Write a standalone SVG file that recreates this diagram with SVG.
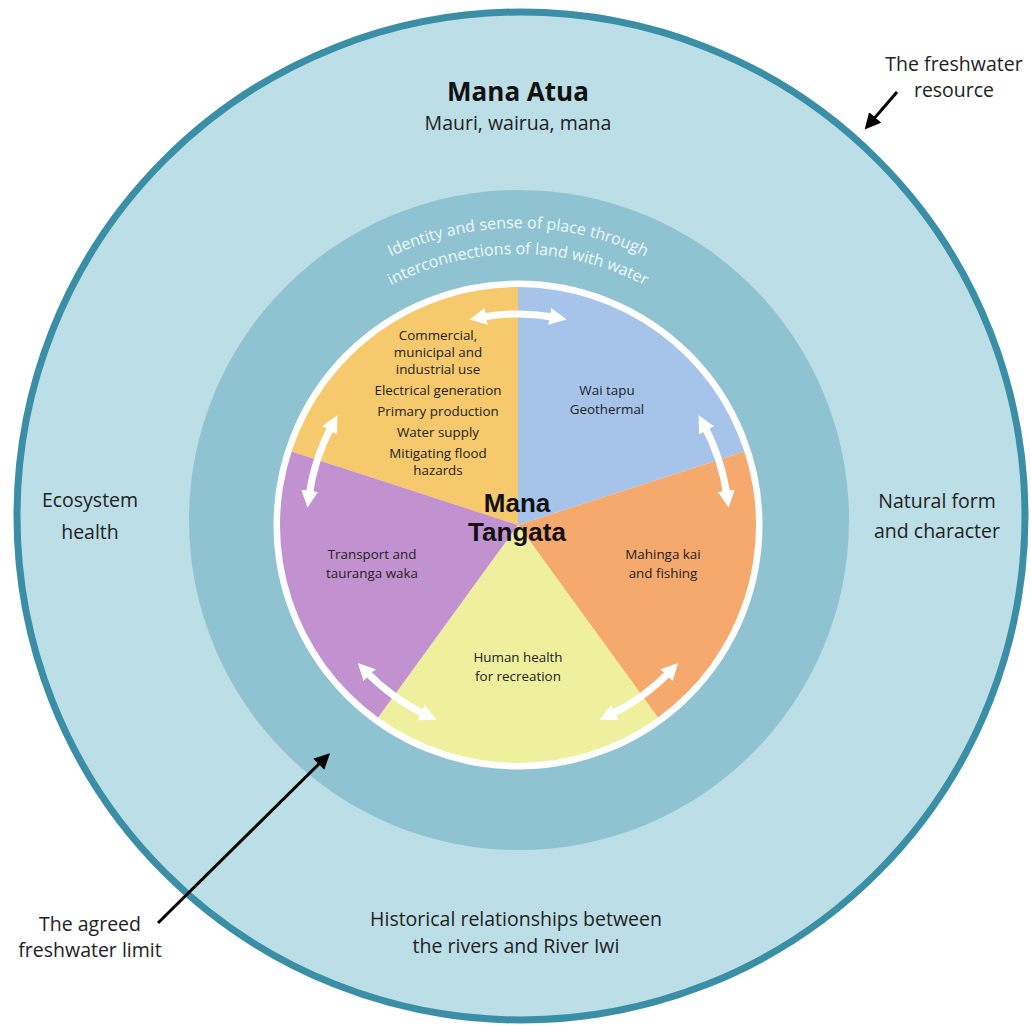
<svg xmlns="http://www.w3.org/2000/svg" width="1031" height="1025" viewBox="0 0 1031 1025">
<defs>
<style>
text{font-family:"Open Sans","Noto Sans","Liberation Sans",sans-serif;fill:#222;text-anchor:middle}
.lbl{font-size:19.5px}
.pie{font-size:13.4px}
.bold{font-weight:bold}
.mt{font-family:"Liberation Sans",Arial,sans-serif;font-weight:bold;font-size:26px;fill:#111}
.curve{fill:#eef9fb;font-size:16px}
.wa{fill:none;stroke:#ffffff;stroke-width:7;marker-start:url(#wh);marker-end:url(#wh)}
.ba{fill:none;stroke:#000;stroke-width:3;marker-end:url(#bh)}
</style>
<marker id="wh" viewBox="0 0 10 10" refX="4" refY="5" markerUnits="userSpaceOnUse" markerWidth="17" markerHeight="17" orient="auto-start-reverse">
<path d="M0,0 L10,5 L0,10 z" fill="#ffffff"/>
</marker>
<marker id="bh" viewBox="0 0 10 10" refX="3" refY="5" markerUnits="userSpaceOnUse" markerWidth="16" markerHeight="16" orient="auto">
<path d="M0,0 L10,5 L0,10 z" fill="#000"/>
</marker>
<path id="arc1" d="M221,525 A297,297 0 0 1 815,525"/>
<path id="arc2" d="M247,525 A271,271 0 0 1 789,525"/>
</defs>
<rect width="1031" height="1025" fill="#ffffff"/>
<g id="freshwater-resource">
<circle cx="521" cy="516" r="504" fill="#bcdee7" stroke="#3a8ea6" stroke-width="7"/>
<text class="bold" x="518" y="101" style="font-size:26px;fill:#111">Mana Atua</text>
<text class="lbl" x="518" y="130">Mauri, wairua, mana</text>
</g>
<g id="ecosystem-health"><text class="lbl" x="90" y="507">Ecosystem</text><text class="lbl" x="90" y="539">health</text></g>
<g id="natural-form"><text class="lbl" x="937" y="508">Natural form</text><text class="lbl" x="937" y="538">and character</text></g>
<g id="historical"><text class="lbl" x="516" y="926">Historical relationships between</text><text class="lbl" x="516" y="953">the rivers and River Iwi</text></g>
<g id="identity-ring">
<circle cx="519" cy="520" r="330" fill="#8fc3d1"/>
<text class="curve"><textPath href="#arc1" startOffset="50%">Identity and sense of place through</textPath></text>
<text class="curve"><textPath href="#arc2" startOffset="50%">interconnections of land with water</textPath></text>
</g>
<g id="mana-tangata">
<circle cx="518" cy="525" r="241" fill="#ffffff" stroke="#ffffff" stroke-width="7"/>
<g id="wedge-commercial">
<path d="M518,525 L291.65,451.45 A238,238 0 0 1 518,287 Z" fill="#f6c96c"/>
<text class="pie" x="438" y="340">Commercial,</text>
<text class="pie" x="438" y="357">municipal and</text>
<text class="pie" x="438" y="374">industrial use</text>
<text class="pie" x="438" y="395">Electrical generation</text>
<text class="pie" x="438" y="416">Primary production</text>
<text class="pie" x="438" y="437">Water supply</text>
<text class="pie" x="438" y="458">Mitigating flood</text>
<text class="pie" x="438" y="475">hazards</text>
</g>
<g id="wedge-waitapu">
<path d="M518,525 L518,287 A238,238 0 0 1 744.35,451.45 Z" fill="#a6c4ea"/>
<text class="pie" x="607" y="395">Wai tapu</text>
<text class="pie" x="607" y="414">Geothermal</text>
</g>
<g id="wedge-mahinga">
<path d="M518,525 L744.35,451.45 A238,238 0 0 1 657.89,717.55 Z" fill="#f5a96d"/>
<text class="pie" x="663" y="559">Mahinga kai</text>
<text class="pie" x="663" y="578">and fishing</text>
</g>
<g id="wedge-human">
<path d="M518,525 L657.89,717.55 A238,238 0 0 1 378.11,717.55 Z" fill="#eef09d"/>
<text class="pie" x="518" y="662">Human health</text>
<text class="pie" x="518" y="681">for recreation</text>
</g>
<g id="wedge-transport">
<path d="M518,525 L378.11,717.55 A238,238 0 0 1 291.65,451.45 Z" fill="#c291d0"/>
<text class="pie" x="372" y="559">Transport and</text>
<text class="pie" x="372" y="578">tauranga waka</text>
</g>
<text class="mt" x="517" y="512">Mana</text>
<text class="mt" x="517" y="541">Tangata</text>
</g>
<g id="label-resource"><text class="lbl" x="954" y="71">The freshwater</text><text class="lbl" x="954" y="97">resource</text></g>
<g id="label-limit"><text class="lbl" x="90" y="931">The agreed</text><text class="lbl" x="90" y="957">freshwater limit</text></g>
<g id="connectors">
<path class="wa" d="M479.55,317.53 A211,211 0 0 1 556.45,317.53"/>
<path class="wa" d="M703.4,424.3 A211,211 0 0 1 727.2,497.5"/>
<path class="wa" d="M671.1,670.3 A211,211 0 0 1 608.8,715.4"/>
<path class="wa" d="M427.2,715.4 A211,211 0 0 1 364.9,670.3"/>
<path class="wa" d="M308.8,497.5 A211,211 0 0 1 332.6,424.3"/>
<path class="ba" d="M158,923 L322,761"/>
<path class="ba" d="M897,92 L872,121"/>
</g>
</svg>
